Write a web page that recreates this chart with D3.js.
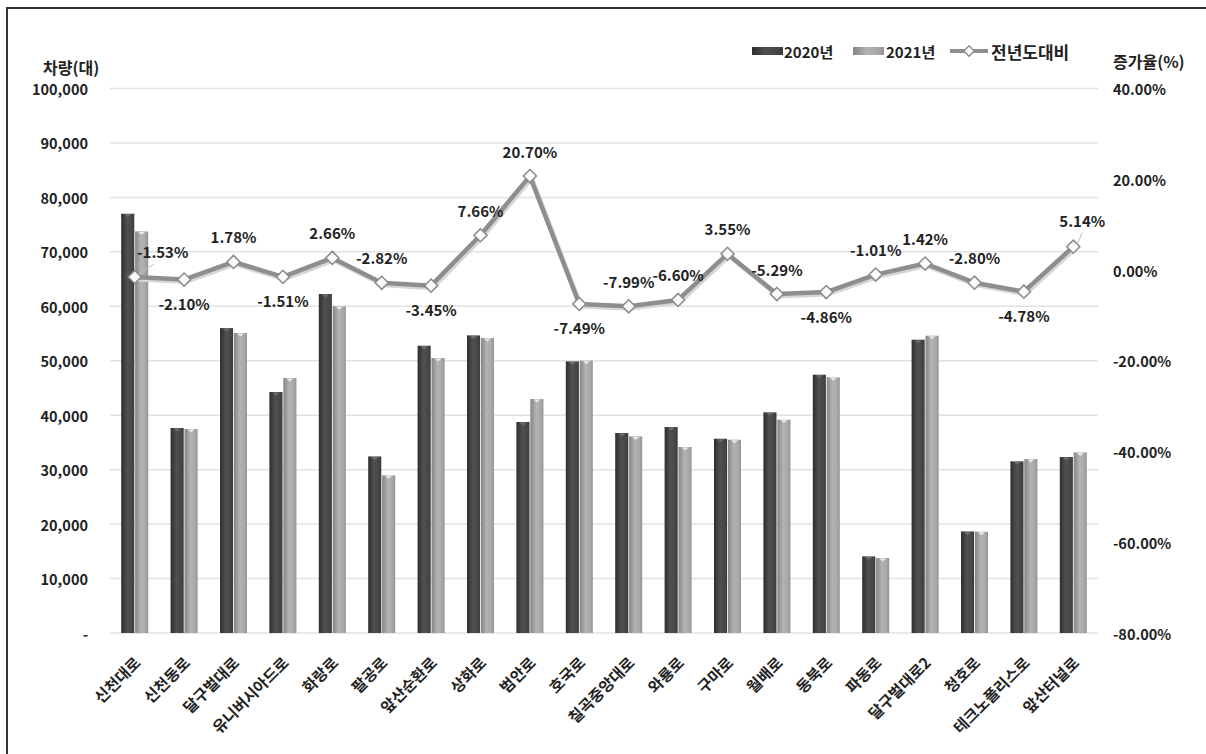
<!DOCTYPE html>
<html>
<head>
<meta charset="utf-8">
<script src="https://cdn.jsdelivr.net/npm/d3@7"></script>
<style>
  body { margin: 0; background: #fff; }
  svg text { font-family: "Noto Sans CJK KR", "Noto Sans", sans-serif; font-weight: bold; fill: #222; }
</style>
</head>
<body>
<div id="chart"></div>
<script>
// road names (x axis)
const categories = ["신천대로", "신천동로", "달구벌대로", "유니버시아드로", "화랑로", "팔공로", "앞산순환로", "상화로", "범안로", "호국로",
  "칠곡중앙대로", "와룡로", "구마로", "월배로", "동북로", "파동로", "달구벌대로2", "청호로", "테크노폴리스로", "앞산터널로"];

// traffic volume (vehicles)
const values2020 = [77000, 37650, 56000, 44260, 62260, 32430, 52760, 54660, 38750, 49880,
  36730, 37830, 35680, 40520, 47440, 14070, 53870, 18660, 31520, 32320];
const values2021 = [73760, 37460, 55100, 46830, 60000, 28950, 50500, 54180, 42970, 50010,
  36110, 34160, 35500, 39170, 46950, 13770, 54600, 18600, 31950, 33170];

// change vs previous year (%)
const changeRates = [-1.53, -2.10, 1.78, -1.51, 2.66, -2.82, -3.45, 7.66, 20.70, -7.49,
  -7.99, -6.60, 3.55, -5.29, -4.86, -1.01, 1.42, -2.80, -4.78, 5.14];

const seriesNames = ["2020년", "2021년", "전년도대비"];
const leftTicks = [0, 10000, 20000, 30000, 40000, 50000, 60000, 70000, 80000, 90000, 100000];
const rightTicks = [40, 20, 0, -20, -40, -60, -80];

// where each data label sits relative to its marker
const labelSide = ["leader", "below", "above", "below", "above", "above", "below", "above", "above", "below",
  "above", "above", "above", "above", "below", "above", "above", "above", "below", "leaderNear"];

const W = 1206, H = 754;
const plot = {left: 110, right: 1098, top: 88.5, bottom: 633};

const svg = d3.select("#chart").append("svg")
  .attr("width", W).attr("height", H);

// gradients for the bevelled bars
const defs = svg.append("defs");
function hGrad(id, stops) {
  const g = defs.append("linearGradient").attr("id", id).attr("x1", "0").attr("x2", "1").attr("y1", "0").attr("y2", "0");
  stops.forEach(s => g.append("stop").attr("offset", s[0]).attr("stop-color", s[1]));
}
hGrad("gDark", [[0, "#2e2e2e"], [0.45, "#505050"], [0.8, "#474747"], [1, "#3a3a3a"]]);
hGrad("gLight", [[0, "#858585"], [0.45, "#b3b3b3"], [0.8, "#a8a8a8"], [1, "#929292"]]);

// outer frame
svg.append("rect")
  .attr("x", 7).attr("y", 8).attr("width", 1220).attr("height", 780)
  .attr("fill", "#fff").attr("stroke", "#333").attr("stroke-width", 2);

const x = d3.scaleBand().domain(categories).range([plot.left, plot.right]);
const xInner = d3.scaleBand().domain(["2020", "2021"]).range([0, 27]).paddingInner(0.06);
const groupOffset = (x.bandwidth() - 27) / 2;
const y = d3.scaleLinear().domain([0, 100000]).range([plot.bottom, plot.top]);
const y2 = d3.scaleLinear().domain([-80, 40]).range([plot.bottom, plot.top]);

// plain hyphen instead of the unicode minus d3 uses
const pct = v => d3.format(".2f")(v).replace("\u2212", "-") + "%";

// gridlines
svg.append("g").selectAll("line").data(leftTicks).join("line")
  .attr("x1", plot.left).attr("x2", plot.right)
  .attr("y1", d => y(d)).attr("y2", d => y(d))
  .attr("stroke", "#e2e2e2").attr("stroke-width", 1.5);

// left axis
const fmtLeft = d => d === 0 ? "-" : d3.format(",")(d);
svg.append("g").selectAll("text").data(leftTicks).join("text")
  .attr("x", 88).attr("y", d => y(d))
  .attr("text-anchor", "end").attr("dominant-baseline", "central")
  .style("font-size", "14.5px")
  .text(fmtLeft);

// right axis
svg.append("g").selectAll("text").data(rightTicks).join("text")
  .attr("x", 1113).attr("y", d => y2(d))
  .attr("dominant-baseline", "central")
  .style("font-size", "14.5px")
  .text(pct);

// axis titles
svg.append("text").attr("x", 43).attr("y", 67).attr("dominant-baseline", "central")
  .style("font-size", "16px").text("차량(대)");
svg.append("text").attr("x", 1113).attr("y", 61).attr("dominant-baseline", "central")
  .style("font-size", "16px").text("증가율(%)");

// bars
const rows = categories.map((c, i) => ({cat: c, v: [values2020[i], values2021[i]]}));
const groups = svg.append("g").selectAll("g").data(rows).join("g")
  .attr("transform", d => `translate(${x(d.cat) + groupOffset},0)`);

const barData = d => [
  {k: "2020", v: d.v[0], fill: "url(#gDark)", tip: "#6e6e6e"},
  {k: "2021", v: d.v[1], fill: "url(#gLight)", tip: "#e8e8e8"}
];
groups.selectAll("rect").data(barData).join("rect")
  .attr("x", d => xInner(d.k)).attr("width", xInner.bandwidth())
  .attr("y", d => y(d.v)).attr("height", d => y(0) - y(d.v))
  .attr("fill", d => d.fill);
groups.selectAll("path").data(barData).join("path")
  .attr("d", d => {
    const cx = xInner(d.k) + xInner.bandwidth() / 2, ty = y(d.v);
    return `M${cx - 3.5},${ty + 0.5}L${cx + 3.5},${ty + 0.5}L${cx},${ty + 3.5}Z`;
  })
  .attr("fill", d => d.tip);

// x labels
svg.append("g").selectAll("text").data(categories).join("text")
  .attr("transform", d => `translate(${x(d) + x.bandwidth() / 2 + 2},${plot.bottom + 26}) rotate(-45)`)
  .attr("text-anchor", "end").attr("dominant-baseline", "central")
  .style("font-size", "15.5px")
  .text(d => d);

// change-rate line
const pts = changeRates.map((r, i) => ({r, i, px: x(categories[i]) + x.bandwidth() / 2, py: y2(r)}));
const line = d3.line().x(d => d.px).y(d => d.py);
svg.append("path").datum(pts).attr("d", line)
  .attr("fill", "none").attr("stroke", "#d6d6d6").attr("stroke-width", 5)
  .attr("transform", "translate(1.5,2)");
svg.append("path").datum(pts).attr("d", line)
  .attr("fill", "none").attr("stroke", "#8e8e8e").attr("stroke-width", 4.5)
  .attr("stroke-linejoin", "round");

const diamond = d3.symbol().type(d3.symbolDiamond2).size(110);
svg.append("g").selectAll("path").data(pts).join("path")
  .attr("transform", d => `translate(${d.px},${d.py})`)
  .attr("d", diamond)
  .attr("fill", "#fafafa").attr("stroke", "#8a8a8a").attr("stroke-width", 1.5);

// data labels
const offsets = {above: [0, -25], below: [0, 24], leader: [28, -25], leaderNear: [9, -26]};
pts.forEach(p => {
  const side = labelSide[p.i];
  const [dx, dy] = offsets[side];
  if (side.startsWith("leader")) {
    svg.append("line")
      .attr("x1", p.px + 4).attr("y1", p.py - 3)
      .attr("x2", p.px + dx * 0.55 + 4).attr("y2", p.py + dy + 12)
      .attr("stroke", "#bdbdbd").attr("stroke-width", 1);
  }
  svg.append("text")
    .attr("x", p.px + dx).attr("y", p.py + dy)
    .attr("text-anchor", "middle").attr("dominant-baseline", "central")
    .style("font-size", "15px")
    .text(pct(p.r));
});

// legend
const legend = svg.append("g").attr("transform", "translate(752,51)");
legend.append("rect").attr("x", 0).attr("y", -4).attr("width", 31).attr("height", 8).attr("fill", "url(#gDark)");
legend.append("text").attr("x", 32).attr("y", 0).attr("dominant-baseline", "central").style("font-size", "15px").text(seriesNames[0]);
legend.append("rect").attr("x", 101).attr("y", -4).attr("width", 31).attr("height", 8).attr("fill", "url(#gLight)");
legend.append("text").attr("x", 134).attr("y", 0).attr("dominant-baseline", "central").style("font-size", "15px").text(seriesNames[1]);
legend.append("line").attr("x1", 198).attr("x2", 236).attr("y1", 0).attr("y2", 0)
  .attr("stroke", "#8e8e8e").attr("stroke-width", 4);
legend.append("path").attr("transform", "translate(217,0)").attr("d", d3.symbol().type(d3.symbolDiamond2).size(70))
  .attr("fill", "#fafafa").attr("stroke", "#8a8a8a").attr("stroke-width", 1.3);
legend.append("text").attr("x", 239).attr("y", 0).attr("dominant-baseline", "central").style("font-size", "17px").text(seriesNames[2]);
</script>
</body>
</html>
